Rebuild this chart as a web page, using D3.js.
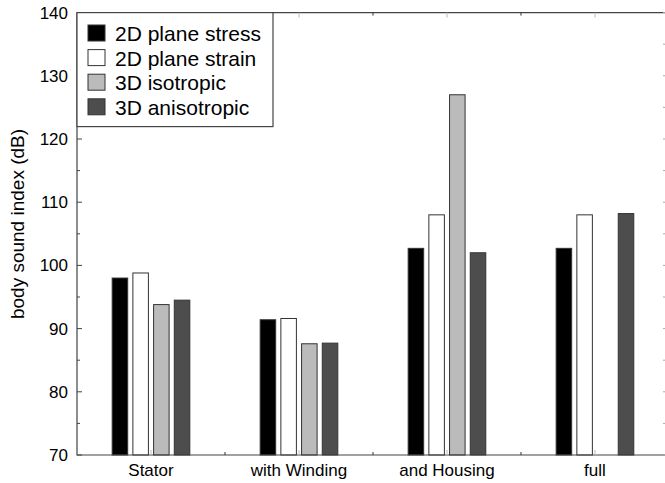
<!DOCTYPE html>
<html>
<head>
<meta charset="utf-8">
<script src="https://cdn.jsdelivr.net/npm/d3@7"></script>
<style>
  body { margin: 0; background: #fff; }
  svg { font-family: "Liberation Sans", Arial, Helvetica, sans-serif; }
</style>
</head>
<body>
<div id="chart"></div>
<script>
// chart data
const categories = ["Stator", "with Winding", "and Housing", "full"];
const seriesNames = ["2D plane stress", "2D plane strain", "3D isotropic", "3D anisotropic"];
const planeStress = [98.0, 91.4, 102.7, 102.7];
const planeStrain = [98.8, 91.6, 108.0, 108.0];
const isotropic3D = [93.8, 87.6, 127.0, null];
const anisotropic3D = [94.5, 87.7, 102.0, 108.2];
const yTicks = [70, 80, 90, 100, 110, 120, 130, 140];

const seriesValues = [planeStress, planeStrain, isotropic3D, anisotropic3D];
const colors = ["#000000", "#ffffff", "#bbbbbb", "#4d4d4d"];

const width = 665, height = 483;
const plotL = 77, plotR = 666, plotT = 12.6, plotB = 455;

const svg = d3.select("#chart").append("svg")
  .attr("width", width)
  .attr("height", height);

// scales
const x = d3.scaleLinear().domain([0.5, 4.48]).range([plotL, plotR]);
const inner = d3.scaleBand()
  .domain(seriesNames)
  .range([-41.4, 41.4])
  .paddingInner(0.25)
  .paddingOuter(0.125);
const y = d3.scaleLinear().domain([70, 140]).range([plotB, plotT]);

// bars
categories.forEach((cat, i) => {
  const cx = x(i + 1);
  const g = svg.append("g").attr("transform", "translate(" + cx + ",0)");
  g.selectAll("rect")
    .data(seriesNames.map((s, k) => ({ s: s, v: seriesValues[k][i], c: colors[k] }))
      .filter(d => d.v !== null))
    .enter()
    .append("rect")
    .attr("x", d => inner(d.s))
    .attr("y", d => y(d.v))
    .attr("width", inner.bandwidth())
    .attr("height", d => plotB - y(d.v))
    .attr("fill", d => d.c)
    .attr("stroke", "#333")
    .attr("stroke-width", 1);
});

// frame
svg.append("path")
  .attr("d", "M" + plotL + "," + plotT + "H" + plotR + "M" + plotL + "," + plotT + "V" + plotB + "H" + plotR)
  .attr("fill", "none")
  .attr("stroke", "#444")
  .attr("stroke-width", 1.2);

// y ticks (inward, with minor ticks at 5)
const minor = d3.range(75, 140, 10);
svg.selectAll("line.ymaj")
  .data(yTicks)
  .enter().append("line")
  .attr("x1", plotL).attr("x2", plotL + 5)
  .attr("y1", d => y(d)).attr("y2", d => y(d))
  .attr("stroke", "#444");
svg.selectAll("line.ymin")
  .data(minor)
  .enter().append("line")
  .attr("x1", plotL).attr("x2", plotL + 3)
  .attr("y1", d => y(d)).attr("y2", d => y(d))
  .attr("stroke", "#444");
svg.selectAll("line.yminr")
  .data(yTicks.concat(minor))
  .enter().append("line")
  .attr("x1", plotR - 3).attr("x2", plotR)
  .attr("y1", d => y(d)).attr("y2", d => y(d))
  .attr("stroke", "#aaa");

svg.selectAll("text.ytick")
  .data(yTicks)
  .enter().append("text")
  .attr("x", plotL - 9)
  .attr("y", d => y(d))
  .attr("dy", "0.35em")
  .attr("text-anchor", "end")
  .attr("font-size", 17)
  .attr("fill", "#000")
  .text(d => d);

// x ticks: group boundaries and small marks
const bounds = [1.5, 2.5, 3.5];
[plotB, plotT].forEach((yy, j) => {
  const dir = j === 0 ? -1 : 1;
  svg.selectAll(null)
    .data(bounds)
    .enter().append("line")
    .attr("x1", d => x(d)).attr("x2", d => x(d))
    .attr("y1", yy).attr("y2", yy + dir * 3)
    .attr("stroke", "#333");
  svg.selectAll(null)
    .data(d3.range(1, 5))
    .enter().append("line")
    .attr("x1", d => x(d)).attr("x2", d => x(d))
    .attr("y1", yy).attr("y2", yy + dir * 5)
    .attr("stroke", "#bbb");
});

svg.selectAll("text.xlab")
  .data(categories)
  .enter().append("text")
  .attr("x", (d, i) => x(i + 1))
  .attr("y", 476)
  .attr("text-anchor", "middle")
  .attr("font-size", 17)
  .attr("fill", "#000")
  .text(d => d);

// y title
svg.append("text")
  .attr("transform", "translate(24,224)rotate(-90)")
  .attr("text-anchor", "middle")
  .attr("font-size", 19)
  .attr("fill", "#000")
  .text("body sound index (dB)");

// legend
const legend = svg.append("g");
legend.append("rect")
  .attr("x", plotL).attr("y", plotT)
  .attr("width", 196).attr("height", 114)
  .attr("fill", "#fff")
  .attr("stroke", "#444")
  .attr("stroke-width", 1.2);
seriesNames.forEach((s, k) => {
  const yy = 25 + k * 24.6;
  legend.append("rect")
    .attr("x", 88).attr("y", yy)
    .attr("width", 17).attr("height", 16)
    .attr("fill", colors[k])
    .attr("stroke", "#333");
  legend.append("text")
    .attr("x", 115).attr("y", yy + 16)
    .attr("font-size", 21)
    .attr("fill", "#000")
    .text(s);
});
</script>
</body>
</html>
